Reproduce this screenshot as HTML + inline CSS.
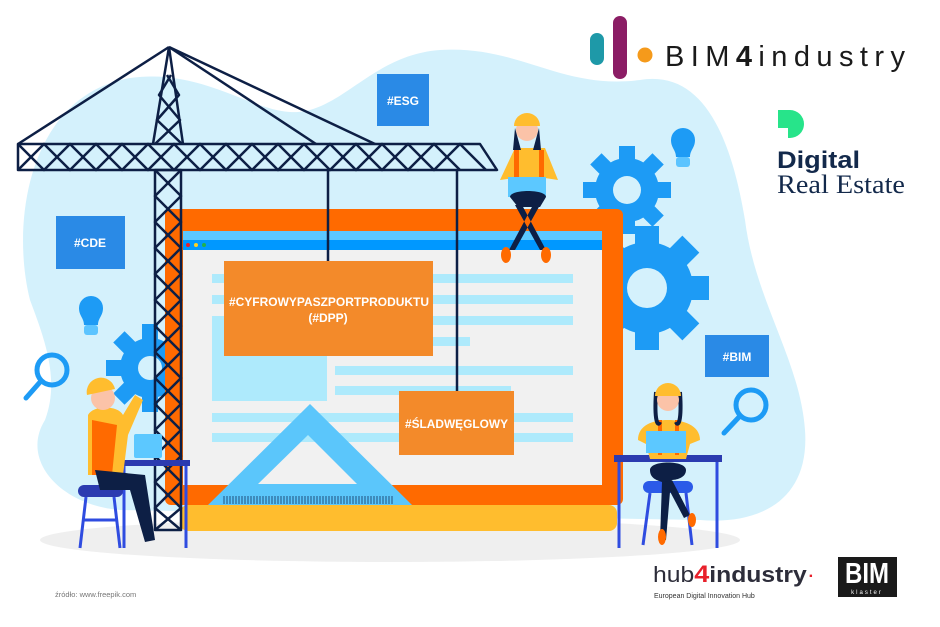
<!DOCTYPE html>
<html><head><meta charset="utf-8"><style>
html,body{margin:0;padding:0;background:#fff;}
svg{display:block;}
text{font-family:"Liberation Sans","DejaVu Sans",sans-serif;}
</style></head><body>
<svg width="940" height="627" viewBox="0 0 940 627" xmlns="http://www.w3.org/2000/svg">
<path d="M30,300 C10,220 30,95 130,78 C200,68 250,110 290,112 C340,115 370,55 440,50 C520,45 560,90 640,80 C700,70 730,130 745,220 C755,300 800,360 805,430 C810,500 760,525 700,520 L120,510 C60,505 20,460 45,420 C60,380 45,340 30,300 Z" fill="#d4f1fc"/>
<ellipse cx="390" cy="540" rx="350" ry="22" fill="#efefef"/>

<g fill="#1d9bf5">
  <g transform="translate(627,190)">
    <circle r="32"/>
    <g id="t1"><rect x="-8" y="-44" width="16" height="16"/></g>
    <use href="#t1" transform="rotate(45)"/><use href="#t1" transform="rotate(90)"/><use href="#t1" transform="rotate(135)"/>
    <use href="#t1" transform="rotate(180)"/><use href="#t1" transform="rotate(225)"/><use href="#t1" transform="rotate(270)"/><use href="#t1" transform="rotate(315)"/>
  </g>
  <g transform="translate(647,288)">
    <circle r="46"/>
    <g id="t2"><rect x="-12" y="-62" width="24" height="20"/></g>
    <use href="#t2" transform="rotate(45)"/><use href="#t2" transform="rotate(90)"/><use href="#t2" transform="rotate(135)"/>
    <use href="#t2" transform="rotate(180)"/><use href="#t2" transform="rotate(225)"/><use href="#t2" transform="rotate(270)"/><use href="#t2" transform="rotate(315)"/>
  </g>
  <g transform="translate(150,368)">
    <circle r="30"/>
    <use href="#t1" transform="rotate(0)"/><use href="#t1" transform="rotate(-45)"/><use href="#t1" transform="rotate(-90)"/><use href="#t1" transform="rotate(-135)"/><use href="#t1" transform="rotate(-180)"/><use href="#t1" transform="rotate(45)"/>
  </g>
</g>
<circle cx="627" cy="190" r="14" fill="#d4f1fc"/>
<circle cx="647" cy="288" r="20" fill="#d4f1fc"/>
<circle cx="150" cy="368" r="12" fill="#d4f1fc"/>
<g>
  <path d="M671,140 a12,12 0 1 1 24,0 c0,8 -5,10 -5,17 h-14 c0,-7 -5,-9 -5,-17z" fill="#1d9bf5"/>
  <rect x="676" y="157" width="14" height="10" rx="3" fill="#5cc4ff"/>
  <path d="M79,308 a12,12 0 1 1 24,0 c0,8 -5,10 -5,17 h-14 c0,-7 -5,-9 -5,-17z" fill="#1d9bf5"/>
  <rect x="84" y="325" width="14" height="10" rx="3" fill="#5cc4ff"/>
</g>
<g fill="none" stroke="#1d9bf5" stroke-width="5" stroke-linecap="round">
  <circle cx="52" cy="370" r="15"/><line x1="41" y1="381" x2="26" y2="398"/>
  <circle cx="751" cy="405" r="15"/><line x1="740" y1="416" x2="724" y2="433"/>
</g>

<rect x="180" y="505" width="437" height="26" rx="8" fill="#ffbd2e"/>
<rect x="165" y="209" width="458" height="296" rx="6" fill="#ff6a00"/>
<rect x="183" y="231" width="419" height="254" fill="#f1f1f1"/>
<rect x="183" y="231" width="419" height="10" fill="#5cc8ff"/>
<rect x="183" y="240" width="419" height="10" fill="#0098ff"/>
<circle cx="188" cy="245" r="2" fill="#e8202b"/><circle cx="196" cy="245" r="2" fill="#ffd21f"/><circle cx="204" cy="245" r="2" fill="#22b14c"/>
<g fill="#aeeafc">
  <rect x="212" y="274" width="361" height="9"/>
  <rect x="212" y="295" width="361" height="9"/>
  <rect x="212" y="316" width="361" height="9"/>
  <rect x="212" y="337" width="258" height="9"/>
  <rect x="212" y="316" width="115" height="85"/>
  <rect x="335" y="366" width="238" height="9"/>
  <rect x="335" y="386" width="176" height="9"/>
  <rect x="212" y="413" width="361" height="9"/>
  <rect x="212" y="433" width="361" height="9"/>
</g>
<path d="M310,404 L412,505 L208,505 Z M308,435 L258,484 L357,484 Z" fill="#5bc6fb" fill-rule="evenodd"/>
<g stroke="#13335f" stroke-width="0.8">
  <path d="M224,496 v8 M227,496 v8 M230,496 v8 M233,496 v8 M236,496 v8 M239,496 v8 M242,496 v8 M245,496 v8 M248,496 v8 M251,496 v8 M254,496 v8 M257,496 v8 M260,496 v8 M263,496 v8 M266,496 v8 M269,496 v8 M272,496 v8 M275,496 v8 M278,496 v8 M281,496 v8 M284,496 v8 M287,496 v8 M290,496 v8 M293,496 v8 M296,496 v8 M299,496 v8 M302,496 v8 M305,496 v8 M308,496 v8 M311,496 v8 M314,496 v8 M317,496 v8 M320,496 v8 M323,496 v8 M326,496 v8 M329,496 v8 M332,496 v8 M335,496 v8 M338,496 v8 M341,496 v8 M344,496 v8 M347,496 v8 M350,496 v8 M353,496 v8 M356,496 v8 M359,496 v8 M362,496 v8 M365,496 v8 M368,496 v8 M371,496 v8 M374,496 v8 M377,496 v8 M380,496 v8 M383,496 v8 M386,496 v8 M389,496 v8 M392,496 v8"/>
</g>

<g fill="none" stroke="#0d1f45" stroke-width="2.5" stroke-linejoin="round">
  <line x1="169" y1="47" x2="18" y2="144"/>
  <line x1="169" y1="47" x2="316" y2="144"/>
  <line x1="169" y1="47" x2="375" y2="144"/>
  <path d="M169,47 L153,144 M169,47 L183,144"/>
  <path d="M167,75 L179,95 L157,120 L182,144 M171,75 L159,95 L180,120 L155,144"/>
  <path d="M18,144 L480,144 L497,170 L18,170 Z"/>
  <path d="M18,170 L44,144 L70,170 L96,144 L122,170 L148,144 L174,170 L200,144 L226,170 L252,144 L278,170 L304,144 L330,170 L356,144 L382,170 L408,144 L434,170 L460,144 L486,170"/>
  <path d="M18,144 L44,170 L70,144 L96,170 L122,144 L148,170 L174,144 L200,170 L226,144 L252,170 L278,144 L304,170 L330,144 L356,170 L382,144 L408,170 L434,144 L460,170"/>
  <rect x="155" y="170" width="26" height="360"/>
  <path d="M155,170 L181,196 L155,222 L181,248 L155,274 L181,300 L155,326 L181,352 L155,378 L181,404 L155,430 L181,456 L155,482 L181,508 L155,530"/>
  <path d="M181,170 L155,196 L181,222 L155,248 L181,274 L155,300 L181,326 L155,352 L181,378 L155,404 L181,430 L155,456 L181,482 L155,508 L181,530"/>
  <line x1="328" y1="170" x2="328" y2="262"/>
  <line x1="457" y1="170" x2="457" y2="392"/>
</g>

<rect x="224" y="261" width="209" height="95" fill="#f38a2a"/>
<text x="229" y="306" fill="#fff" font-size="12" font-weight="bold" textLength="200" lengthAdjust="spacingAndGlyphs">#CYFROWYPASZPORTPRODUKTU</text>
<text x="328" y="322" fill="#fff" font-size="12" font-weight="bold" text-anchor="middle">(#DPP)</text>
<rect x="399" y="391" width="115" height="64" fill="#f38a2a"/>
<text x="405" y="428" fill="#fff" font-size="12" font-weight="bold" textLength="103" lengthAdjust="spacingAndGlyphs">#ŚLADWĘGLOWY</text>
<rect x="377" y="74" width="52" height="52" fill="#2a8ae6"/>
<text x="403" y="105" fill="#fff" font-size="12" font-weight="bold" text-anchor="middle">#ESG</text>
<rect x="56" y="216" width="69" height="53" fill="#2a8ae6"/>
<text x="90" y="247" fill="#fff" font-size="12" font-weight="bold" text-anchor="middle">#CDE</text>
<rect x="705" y="335" width="64" height="42" fill="#2a8ae6"/>
<text x="737" y="361" fill="#fff" font-size="12" font-weight="bold" text-anchor="middle">#BIM</text>

<g>
  <path d="M500,180 L515,148 L545,148 L558,180 L545,178 L540,195 L520,195 L515,178 Z" fill="#ffbd2e"/>
  <rect x="514" y="150" width="5" height="30" fill="#ff6a00"/><rect x="539" y="150" width="5" height="30" fill="#ff6a00"/>
  <circle cx="527" cy="130" r="11" fill="#fbc3a8"/>
  <path d="M514,126 a13,13 0 0 1 26,0 z" fill="#ffbd2e"/>
  <path d="M515,128 l-2,22 l8,0 z M539,128 l2,22 l-8,0z" fill="#0d1f45"/>
  <rect x="508" y="177" width="38" height="20" fill="#5cc8ff"/>
  <path d="M510,197 c0,-8 36,-8 36,0 l-6,10 l-22,0 z" fill="#0d1f45"/>
  <path d="M515,205 L540,250 L546,250 L522,205 Z M540,205 L515,250 L509,250 L533,205Z" fill="#0d1f45"/>
  <ellipse cx="506" cy="255" rx="5" ry="8" fill="#ff6a00"/><ellipse cx="546" cy="255" rx="5" ry="8" fill="#ff6a00"/>
</g>

<g>
  <rect x="120" y="460" width="70" height="6" fill="#2b3bb0"/>
  <path d="M124,466 v82 M186,466 v82" stroke="#2f4ce0" stroke-width="3"/>
  <rect x="78" y="485" width="45" height="12" rx="6" fill="#2b3bb0"/>
  <path d="M86,497 L80,548 M114,497 L120,548 M83,520 h35" stroke="#2f4ce0" stroke-width="3" fill="none"/>
  <path d="M88,415 c5,-10 30,-10 35,0 l12,-20 l8,5 l-15,35 l-5,40 l-35,0 z" fill="#ffbd2e"/>
  <path d="M92,420 l25,5 l-5,50 l-20,0z" fill="#ff6a00"/>
  <circle cx="103" cy="398" r="12" fill="#fbc3a8"/>
  <path d="M87,395 a14,14 0 0 1 28,-6 z" fill="#ffbd2e"/>
  <path d="M95,470 L145,475 L155,540 L145,542 L130,490 L100,490 Z" fill="#0d1f45"/>
  <rect x="134" y="434" width="28" height="24" rx="2" fill="#5cc8ff"/>
</g>

<g>
  <rect x="614" y="455" width="108" height="7" fill="#2b3bb0"/>
  <path d="M619,462 v86 M717,462 v86" stroke="#2f4ce0" stroke-width="3"/>
  <rect x="643" y="481" width="50" height="12" rx="6" fill="#2b5ae8"/>
  <path d="M650,493 L643,545 M686,493 L692,545" stroke="#2f4ce0" stroke-width="3"/>
  <path d="M638,440 c0,-15 15,-20 30,-20 c15,0 32,5 32,20 l-10,4 l-4,15 l-36,0 l-4,-15z" fill="#ffbd2e"/>
  <rect x="658" y="420" width="4" height="35" fill="#ff6a00"/><rect x="675" y="420" width="4" height="35" fill="#ff6a00"/>
  <path d="M656,392 c-2,30 2,35 4,30 M680,392 c2,30 -2,35 -4,30" stroke="#0d1f45" stroke-width="4" fill="none"/>
  <circle cx="668" cy="400" r="11" fill="#fbc3a8"/>
  <path d="M655,396 a13,13 0 0 1 26,0 z" fill="#ffbd2e"/>
  <rect x="646" y="431" width="40" height="22" fill="#5cc8ff"/>
  <path d="M650,470 c0,-10 36,-10 36,0 c0,8 -10,10 -15,10 l-5,60 l-6,0 l2,-58 c-6,-2 -12,-4 -12,-12z" fill="#0d1f45"/>
  <path d="M672,480 L690,515 L684,518 L665,482Z" fill="#0d1f45"/>
  <ellipse cx="662" cy="537" rx="4" ry="8" fill="#ff6a00"/><ellipse cx="692" cy="520" rx="4" ry="7" fill="#ff6a00"/>
</g>

<rect x="590" y="33" width="14" height="32" rx="7" fill="#1e99a8"/>
<rect x="613" y="16" width="14" height="63" rx="7" fill="#8b1d65"/>
<circle cx="645" cy="55" r="7.5" fill="#f59a1b"/>
<text x="665" y="66" font-size="29" fill="#1a1a1a" textLength="240" lengthAdjust="spacing">BIM<tspan font-weight="bold">4</tspan>industry</text>

<path d="M778,110 h12 a14,14 0 0 1 0,28 h-12 z" fill="#27e48a"/>
<path d="M778,128 l10,0 l0,10 l-10,0z" fill="#fff"/>
<text x="777" y="168" font-size="24" font-weight="bold" fill="#13294b" textLength="83" lengthAdjust="spacingAndGlyphs">Digital</text>
<text x="777" y="193" font-size="26" fill="#13294b" style="font-family:'Liberation Serif',serif" textLength="128" lengthAdjust="spacingAndGlyphs">Real Estate</text>

<text x="653" y="582" font-size="22" fill="#2d2d3a" textLength="162" lengthAdjust="spacingAndGlyphs">hub<tspan fill="#e8202b" font-weight="bold" font-size="24">4</tspan><tspan font-weight="bold">industry</tspan><tspan fill="#e8202b">·</tspan></text>
<text x="654" y="598" font-size="7" fill="#333">European Digital Innovation Hub</text>
<rect x="838" y="557" width="59" height="40" fill="#1a1a1a"/>
<text x="867" y="583" font-size="24" fill="#fff" text-anchor="middle" font-weight="bold" transform="translate(867,0) scale(1,1.2) translate(-867,-97)">BIM</text>
<text x="867" y="594" font-size="6" fill="#fff" text-anchor="middle" letter-spacing="2">klaster</text>
<text x="55" y="597" font-size="7.5" fill="#777">źródło: www.freepik.com</text>
</svg>
</body></html>
